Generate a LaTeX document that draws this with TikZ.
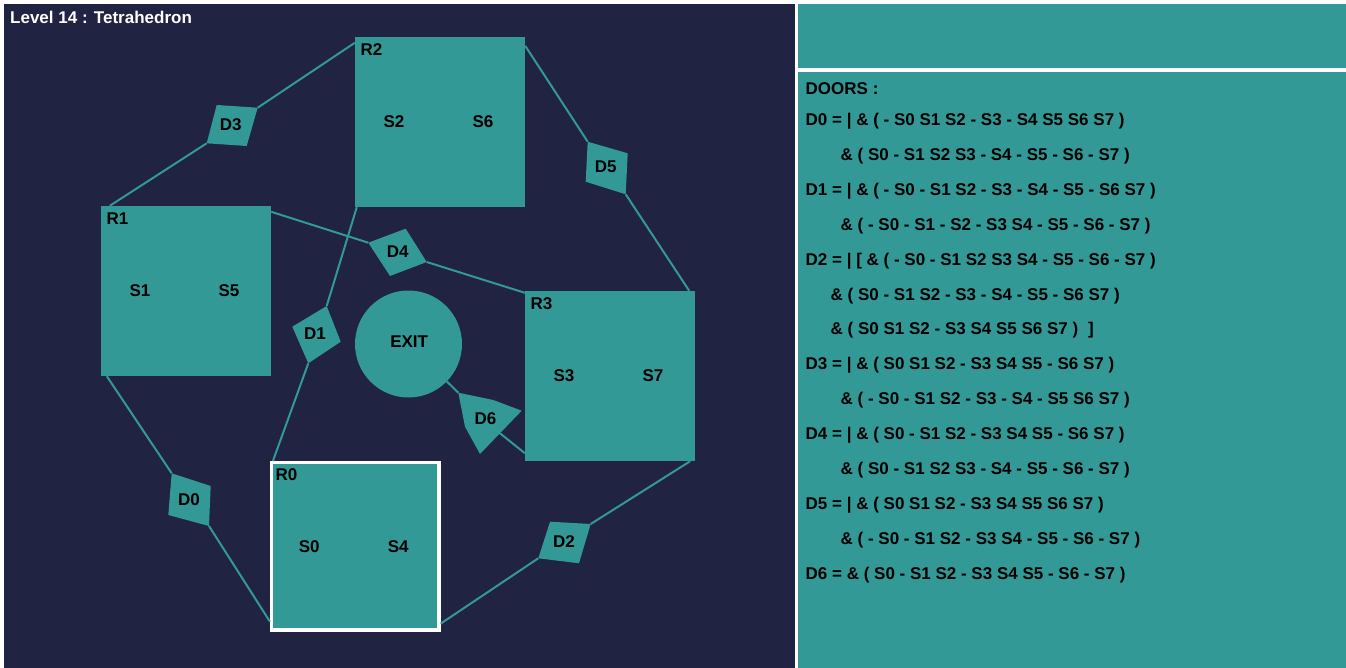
\documentclass[tikz,border=0pt]{standalone}
\usepackage{fontspec}
\setmainfont{Liberation Sans}
\usetikzlibrary{positioning}
\definecolor{navy}{HTML}{212343}
\definecolor{roomteal}{HTML}{329996}
\tikzset{
    lbl/.style={font=\fontsize{17}{20}\selectfont\bfseries, inner sep=0pt, text=black},
    room/.style={fill=roomteal, minimum width=170pt, minimum height=170pt, inner sep=0pt},
    link/.style={draw=roomteal, line width=2pt}
}
\begin{document}
\begin{tikzpicture}[x=1pt,y=-1pt]
        \useasboundingbox (0,0) rectangle (1346,668);
        \fill[white] (0,0) rectangle (1346,668);
        \fill[navy] (4,4) rectangle (795,668);
        \fill[roomteal] (798,4) rectangle (1346,68);
        \fill[roomteal] (798,72) rectangle (1346,668);
        \node[lbl, text=white, anchor=base west] (title) at (10,24) {Level 14 : Tetrahedron};

        \foreach \n/\ax/\ay/\bx/\by/\cx/\cy/\dx/\dy/\lx/\ly in {
            0/171.7/473.3/210.7/486/209/526/168.3/515/189/499.5,
            1/326.7/306/340.7/341.7/308.3/363.3/292.3/326.7/315/334,
            2/550/521.7/590.7/524/579/563.3/538.3/558.3/564/542,
            3/216.7/105/257.7/107.7/246.7/146/206.7/143.3/230.7/125,
            4/405.7/228.7/426.7/262/390/276/368.3/242.7/397.7/251.8,
            5/587.7/141.7/627.7/153.3/625.7/194.3/585.7/181.7/605.8/167.2}{
            \fill[roomteal] (\ax,\ay) coordinate (d\n-a) -- (\bx,\by) coordinate (d\n-b)
                -- (\cx,\cy) coordinate (d\n-c) -- (\dx,\dy) coordinate (d\n-d) -- cycle;
            \node[lbl] (d\n) at (\lx,\ly) {D\n};
        }
        \fill[roomteal] (458.3,392.7) coordinate (d6-a) -- (493.3,400) -- (521.7,410.7) coordinate (d6-b)
            -- (480,454) coordinate (d6-c) -- (465,426.7) -- cycle;
        \coordinate (d6-x) at (500,433.3);
        \node[lbl] (d6) at (485.5,418.2) {D6};

        \node[circle, fill=roomteal, minimum size=107pt, inner sep=0pt] (exit) at (408.5,344) {};
        \node[lbl] (exit-name) at (409.2,341.8) {EXIT};

        \node[room] (r1) at (186,291) {};
        \node[room] (r2) at (440,122) {};
        \node[room] (r3) at (610,376) {};
        \node[room, draw=white, line width=3.3pt, minimum width=167.4pt, minimum height=167.4pt] (r0) at (355.3,546.3) {};

        \foreach \r/\nm/\a/\b in {r0/R0/S0/S4, r1/R1/S1/S5, r2/R2/S2/S6, r3/R3/S3/S7}{
            \node[lbl, below right=7pt and 5.5pt of \r.north west] (\r-name) {\nm};
            \node[lbl] (\r-\a) at ([xshift=-46pt]\r.center) {\a};
            \node[lbl] (\r-\b) at ([xshift=43pt]\r.center) {\b};
        }

        \draw[link] (d3-d) -- ([xshift=9pt]r1.north west);
        \draw[link] (d3-b) -- ([yshift=-6pt]r2.north west);
        \draw[link] (d4-d) -- ([yshift=-6pt]r1.north east);
        \draw[link] (d4-b) -- ([yshift=-2pt]r3.north west);
        \draw[link] (d1-a) -- ([xshift=2pt]r2.south west);
        \draw[link] (d1-c) -- ([xshift=3pt]r0.north west);
        \draw[link] (exit) -- (d6-a);
        \draw[link] (d6-x) -- ([yshift=8pt]r3.south west);
        \draw[link] (d0-a) -- ([xshift=6pt]r1.south west);
        \draw[link] (d0-c) -- ([yshift=10pt]r0.south west);
        \draw[link] (d2-d) -- ([yshift=8pt]r0.south east);
        \draw[link] (d2-b) -- ([xshift=-5pt]r3.south east);
        \draw[link] (d5-a) -- ([yshift=-9pt]r2.north east);
        \draw[link] (d5-c) -- ([xshift=-6pt]r3.north east);

        \node[lbl, anchor=base west] (doors) at (805.5,94.5) {DOORS :};
        \foreach \k/\dx/\t in {
            0/0/{D0 = | \& ( - S0 S1 S2 - S3 - S4 S5 S6 S7 )},
            1/35/{\& ( S0 - S1 S2 S3 - S4 - S5 - S6 - S7 )},
            2/0/{D1 = | \& ( - S0 - S1 S2 - S3 - S4 - S5 - S6 S7 )},
            3/35/{\& ( - S0 - S1 - S2 - S3 S4 - S5 - S6 - S7 )},
            4/0/{D2 = | [ \& ( - S0 - S1 S2 S3 S4 - S5 - S6 - S7 )},
            5/25/{\& ( S0 - S1 S2 - S3 - S4 - S5 - S6 S7 )},
            6/25/{\& ( S0 S1 S2 - S3 S4 S5 S6 S7 )\hspace{10pt}]},
            7/0/{D3 = | \& ( S0 S1 S2 - S3 S4 S5 - S6 S7 )},
            8/35/{\& ( - S0 - S1 S2 - S3 - S4 - S5 S6 S7 )},
            9/0/{D4 = | \& ( S0 - S1 S2 - S3 S4 S5 - S6 S7 )},
            10/35/{\& ( S0 - S1 S2 S3 - S4 - S5 - S6 - S7 )},
            11/0/{D5 = | \& ( S0 S1 S2 - S3 S4 S5 S6 S7 )},
            12/35/{\& ( - S0 - S1 S2 - S3 S4 - S5 - S6 - S7 )},
            13/0/{D6 = \& ( S0 - S1 S2 - S3 S4 S5 - S6 - S7 )}}{
            \node[lbl, anchor=base west] (rule\k) at (805.5+\dx,125.5+34.9*\k) {\t};
        }
\end{tikzpicture}
\end{document}
